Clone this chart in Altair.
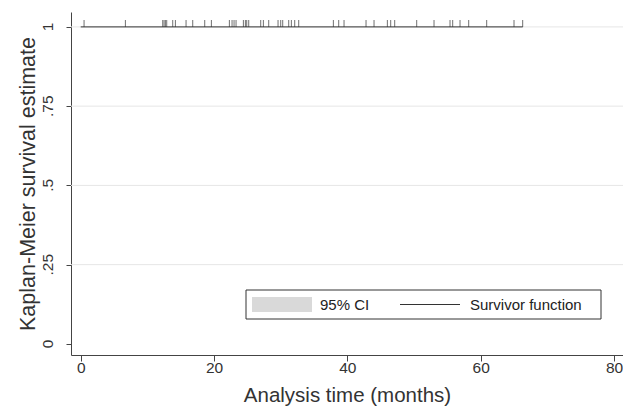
import altair as alt
import pandas as pd

# Kaplan-Meier survivor function (no events: stays at 1)
km_time = [0.0, 66.3]
km_surv = [1.0, 1.0]

# censoring times (months)
censor_time = [0.5, 6.7, 12.3, 12.5, 12.7, 12.9, 13.8, 14.2, 15.8, 16.8, 18.6,
               19.6, 22.3, 22.7, 23.0, 23.3, 24.4, 24.7, 24.9, 25.2, 27.0, 27.4,
               28.2, 29.6, 30.0, 30.3, 31.2, 31.6, 32.1, 32.7, 37.9, 38.7, 39.5,
               42.8, 44.0, 46.0, 46.5, 47.1, 50.4, 53.0, 55.4, 55.8, 56.9, 58.2,
               60.9, 65.0, 66.3]
censor_surv = [1.0] * len(censor_time)

x_ticks = [0, 20, 40, 60, 80]
y_ticks = [0, 0.25, 0.5, 0.75, 1]
y_tick_labels = ["0", ".25", ".5", ".75", "1"]
y_grid = [0.25, 0.5, 0.75, 1]
legend_labels = ["95% CI", "Survivor function"]

W, H = 552, 343
FONT = "Liberation Sans"

xs = alt.Scale(domain=[-1.46, 81.35], nice=False, zero=False)
ys = alt.Scale(domain=[-0.035, 1.047], nice=False, zero=False)

km = pd.DataFrame({"t": km_time, "s": km_surv})
cens = pd.DataFrame({"t": censor_time, "s": censor_surv})
ylab = pd.DataFrame({"v": y_ticks, "lab": y_tick_labels})
grid = pd.DataFrame({"g": y_grid})

x_axis = alt.Axis(values=x_ticks, title="Analysis time (months)", grid=False,
                  tickSize=6, labelPadding=11, labelBaseline="alphabetic",
                  labelFontSize=15.5, titleFontSize=20.5, titleBaseline="alphabetic",
                  titleX=W / 2, titleY=46.5, titleAlign="center")
y_axis = alt.Axis(values=y_ticks, title="Kaplan-Meier survival estimate", grid=False,
                  tickSize=5, labels=False,
                  titleFontSize=21.5, titleAngle=270, titleBaseline="alphabetic",
                  titleAlign="center", titleX=-36.5, titleY=H / 2)

gridlines = alt.Chart(grid).mark_rule(color="#e6e6e6", strokeWidth=1).encode(
    y=alt.Y("g:Q", scale=ys),
)

line = alt.Chart(km).mark_line(color="#333333", strokeWidth=1,
                               interpolate="step-after").encode(
    x=alt.X("t:Q", scale=xs, axis=x_axis),
    y=alt.Y("s:Q", scale=ys, axis=y_axis),
)

ticks = alt.Chart(cens).mark_tick(orient="vertical", size=7, thickness=1,
                                  yOffset=-3.5, color="#333333").encode(
    x=alt.X("t:Q", scale=xs),
    y=alt.Y("s:Q", scale=ys),
)

ylabels = alt.Chart(ylab).mark_text(angle=270, align="center", baseline="middle",
                                    font=FONT, fontSize=15.5, color="#333333").encode(
    x=alt.value(-23),
    y=alt.Y("v:Q", scale=ys),
    text="lab:N",
)

one = pd.DataFrame({"k": [0]})
leg_box = alt.Chart(one).mark_rect(fill="white", stroke="#333333", strokeWidth=1).encode(
    x=alt.value(175), x2=alt.value(530), y=alt.value(278), y2=alt.value(307))
leg_swatch = alt.Chart(one).mark_rect(fill="#d9d9d9").encode(
    x=alt.value(181), x2=alt.value(241), y=alt.value(285), y2=alt.value(300))
leg_line = alt.Chart(one).mark_rule(color="#333333", strokeWidth=1).encode(
    x=alt.value(329), x2=alt.value(389), y=alt.value(292.5))
leg_text1 = alt.Chart(pd.DataFrame({"lab": [legend_labels[0]]})).mark_text(
    align="left", baseline="middle", font=FONT, fontSize=15, color="#222222",
    x=249, y=293).encode(text="lab:N")
leg_text2 = alt.Chart(pd.DataFrame({"lab": [legend_labels[1]]})).mark_text(
    align="left", baseline="middle", font=FONT, fontSize=15, color="#222222",
    x=399, y=293).encode(text="lab:N")

chart = alt.layer(gridlines, line, ticks, ylabels, leg_box, leg_swatch, leg_line,
                  leg_text1, leg_text2).properties(
    width=W, height=H,
    autosize=alt.AutoSizeParams(type="none"),
    padding={"left": 63, "top": 4, "right": 0, "bottom": 51},
    background="white",
).configure_view(stroke=None).configure_axis(
    domainColor="#444444", tickColor="#444444", labelColor="#333333",
    titleColor="#333333", labelFont=FONT, titleFont=FONT, titleFontWeight="normal",
    domainWidth=1, tickWidth=1,
)

chart.save("out.html", embed_options={"renderer": "svg", "actions": False})
